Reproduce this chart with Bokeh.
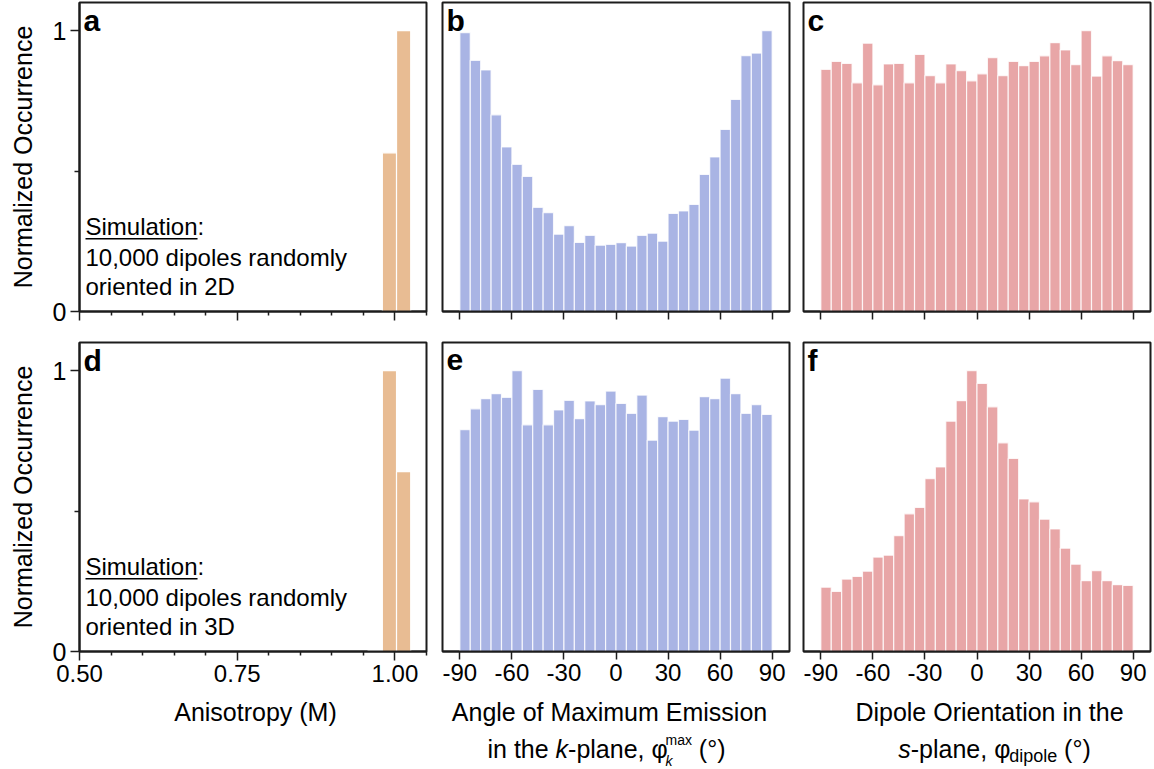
import math
from bokeh.plotting import figure
from bokeh.layouts import column, row
from bokeh.models import Label, FixedTicker, BoxAnnotation, Range1d
from bokeh.embed import file_html
from bokeh.resources import INLINE

# ---- data -------------------------------------------------------------
# anisotropy histograms (bin edges in M)
aniso_edges = [0.9575, 0.98, 1.0025, 1.025]
aniso_2d = [0.0, 0.565, 1.0]
aniso_3d = [0.004, 1.0, 0.64]

# angular histograms, 6 degree bins from -90 to 90
angle_edges = list(range(-90, 91, 6))

kmax_2d = [0.993, 0.894, 0.860, 0.700, 0.586, 0.524, 0.481, 0.371, 0.352, 0.275,
           0.306, 0.246, 0.271, 0.236, 0.239, 0.245, 0.233, 0.271, 0.279, 0.250,
           0.349, 0.358, 0.381, 0.488, 0.550, 0.648, 0.755, 0.911, 0.920, 1.000]

dipole_2d = [0.862, 0.890, 0.883, 0.814, 0.955, 0.807, 0.881, 0.883, 0.814, 0.915,
             0.840, 0.814, 0.881, 0.857, 0.821, 0.846, 0.904, 0.840, 0.890, 0.875,
             0.890, 0.910, 0.957, 0.931, 0.879, 1.000, 0.838, 0.910, 0.893, 0.879]

kmax_3d = [0.790, 0.864, 0.900, 0.918, 0.905, 1.000, 0.807, 0.933, 0.807, 0.860,
           0.894, 0.829, 0.892, 0.879, 0.927, 0.883, 0.848, 0.913, 0.752, 0.836,
           0.820, 0.826, 0.788, 0.907, 0.900, 0.973, 0.918, 0.848, 0.879, 0.844]

dipole_3d = [0.229, 0.214, 0.258, 0.267, 0.286, 0.336, 0.343, 0.412, 0.490, 0.513,
             0.615, 0.657, 0.820, 0.893, 1.000, 0.954, 0.871, 0.743, 0.687, 0.543,
             0.533, 0.471, 0.436, 0.368, 0.311, 0.252, 0.288, 0.252, 0.238, 0.235]

angle_ticks = [-90, -60, -30, 0, 30, 60, 90]
angle_tick_labels = ["-90", "-60", "-30", "0", "30", "60", "90"]
aniso_major = [0.5, 0.75, 1.0]
aniso_tick_labels = ["0.50", "0.75", "1.00"]
aniso_minor = [0.55, 0.6, 0.65, 0.7, 0.8, 0.85, 0.9, 0.95, 1.05]

# ---- style ------------------------------------------------------------
FONT = "Liberation Sans"
ORANGE = "#E8BC93"
BLUE = "#A9B4E4"
RED = "#E8A6A7"
INK = "#1c1c1c"

# column widths and row heights of the grid
COL_W = [434, 361, 359]
COL_BORDERS = [(79, 8), (8, 6), (8, 4)]
TOP_H = 326          # 2 + 309 + 15
BOT_H = 369          # 16 + 309 + 44
CAP_H = 769 - TOP_H - BOT_H

# Liberation Sans advance widths (1/1000 em)
ADV = {' ': 278, 'i': 222, 'n': 556, 't': 278, 'h': 556, 'e': 556, 'k': 500,
       '-': 333, 'p': 556, 'l': 222, 'a': 556, ',': 278, 'm': 833, 'x': 500,
       '(': 333, ')': 333, '°': 400, 's': 500, 'd': 556, 'o': 556, 'φ': 600,
       'S': 667, 'u': 556}


def text_width(s, size):
    return sum(ADV.get(c, 556) for c in s) * size / 1000.0


def label(p, x, y, text, size=25, style="normal", align="left", units="screen"):
    # y is the wanted baseline; the label anchor sits about 0.35 em above it
    p.add_layout(Label(x=x, y=y + 0.35 * size, x_units=units, y_units=units, text=text,
                       text_font=FONT, text_font_size=f"{size}px", text_font_style=style,
                       text_color="black", text_align=align, text_baseline="alphabetic"))


def style_axis(ax, tick_out):
    ax.axis_line_color = INK
    ax.axis_line_width = 2
    ax.major_tick_line_color = INK
    ax.major_tick_line_width = 1.5
    ax.minor_tick_line_color = INK
    ax.minor_tick_line_width = 1.5
    ax.major_tick_in = 0
    ax.minor_tick_in = 0
    ax.major_tick_out = tick_out
    ax.major_label_text_font = FONT
    ax.major_label_text_color = "black"


def make_fig(col, height, x_range, top, bottom, yaxis):
    left, right = COL_BORDERS[col]
    p = figure(width=COL_W[col], height=height, x_range=x_range, y_range=Range1d(0, 1.1),
               output_backend="svg", toolbar_location=None, tools="",
               y_axis_location="left" if yaxis else None,
               min_border_left=left, min_border_right=right,
               min_border_top=top, min_border_bottom=bottom)
    p.grid.visible = False
    p.outline_line_color = INK
    p.outline_line_width = 2
    p.outline_line_alpha = 1.0
    p.background_fill_color = "white"
    p.border_fill_color = "white"
    ax = p.xaxis[0]
    style_axis(ax, 8)
    ax.minor_tick_out = 4
    ax.major_label_text_font_size = "24px"
    ax.major_label_standoff = 4
    if yaxis:
        ay = p.yaxis[0]
        ay.ticker = FixedTicker(ticks=[0, 1], minor_ticks=[0.5])
        style_axis(ay, 9)
        ay.minor_tick_out = 5
        ay.major_label_text_font_size = "25px"
        ay.major_label_standoff = 4
        ay.major_label_orientation = "horizontal"
        ay.axis_label = "Normalized Occurrence"
        ay.axis_label_text_font = FONT
        ay.axis_label_text_font_size = "25px"
        ay.axis_label_text_font_style = "normal"
        ay.axis_label_text_color = "black"
        ay.axis_label_standoff = 13
    return p


def set_tick_labels(p, ticks, texts, shown):
    ax = p.xaxis[0]
    if shown:
        ax.major_label_overrides = {t: s for t, s in zip(ticks, texts)}
    else:
        # top row: ticks only, no numbers
        ax.major_label_overrides = {t: "" for t in ticks}
        ax.major_label_standoff = -30


def panel_letter(p, letter):
    label(p, 4, 281, letter, size=30, style="bold")


def sim_note(p, dim):
    label(p, 6, 77, "Simulation:", size=24)
    label(p, 6, 46, "10,000 dipoles randomly", size=24)
    label(p, 6, 17, f"oriented in {dim}", size=24)
    w = text_width("Simulation", 24)
    p.add_layout(BoxAnnotation(left=6, right=6 + w, bottom=72, top=73.5,
                               left_units="screen", right_units="screen",
                               bottom_units="screen", top_units="screen",
                               fill_color="black", fill_alpha=1.0, line_alpha=0))


def aniso_panel(height, top, bottom, values, letter, dim, bottom_row):
    p = make_fig(0, height, Range1d(0.5, 1.05), top, bottom, True)
    p.xaxis[0].ticker = FixedTicker(ticks=aniso_major, minor_ticks=aniso_minor)
    p.xaxis[0].major_tick_out = 9
    set_tick_labels(p, aniso_major, aniso_tick_labels, bottom_row)
    p.quad(left=aniso_edges[:-1], right=aniso_edges[1:], bottom=0, top=values,
           fill_color=ORANGE, line_color="white", line_width=1.2)
    panel_letter(p, letter)
    sim_note(p, dim)
    return p


def angle_panel(col, height, top, bottom, values, color, letter, bottom_row):
    p = make_fig(col, height, Range1d(-100, 100), top, bottom, False)
    p.xaxis[0].ticker = FixedTicker(ticks=angle_ticks, minor_ticks=[])
    set_tick_labels(p, angle_ticks, angle_tick_labels, bottom_row)
    p.quad(left=angle_edges[:-1], right=angle_edges[1:], bottom=0, top=values,
           fill_color=color, line_color="white", line_width=1.2, line_alpha=0.8)
    panel_letter(p, letter)
    return p


def caption_fig(col):
    w = COL_W[col]
    p = figure(width=w, height=CAP_H, x_range=Range1d(0, w), y_range=Range1d(0, CAP_H),
               output_backend="svg", toolbar_location=None, tools="",
               x_axis_location=None, y_axis_location=None,
               min_border=0, min_border_left=0, min_border_right=0,
               min_border_top=0, min_border_bottom=0)
    p.grid.visible = False
    p.outline_line_color = None
    p.background_fill_color = "white"
    p.border_fill_color = "white"
    return p


def rich_line(p, center, y, pieces):
    # pieces: (text, size, style, baseline shift, advance)
    total = sum(adv for *_, adv in pieces)
    x = center - total / 2.0
    for text, size, style, dy, adv in pieces:
        if text.strip():
            label(p, x, y + dy, text.strip(), size=size, style=style, units="data")
        x += adv


pa = aniso_panel(TOP_H, 2, 15, aniso_2d, "a", "2D", False)
pb = angle_panel(1, TOP_H, 2, 15, kmax_2d, BLUE, "b", False)
pc = angle_panel(2, TOP_H, 2, 15, dipole_2d, RED, "c", False)

pd = aniso_panel(BOT_H, 16, 44, aniso_3d, "d", "3D", True)
pe = angle_panel(1, BOT_H, 16, 44, kmax_3d, BLUE, "e", True)
pf = angle_panel(2, BOT_H, 16, 44, dipole_3d, RED, "f", True)

# axis titles, written in a strip below the bottom row
L1, L2 = 49, 12          # baselines of the two title lines
S, s_sup, s_sub = 25, 14, 18
GAP = text_width(" ", S)

ca = caption_fig(0)
label(ca, 255, L1, "Anisotropy (M)", size=S, align="center", units="data")

cb = caption_fig(1)
label(cb, 175, L1, "Angle of Maximum Emission", size=S, align="center", units="data")
rich_line(cb, 172, L2, [
    ("in the", S, "normal", 0, text_width("in the ", S)),
    ("k", S, "italic", 0, text_width("k", S)),
    ("-plane,", S, "normal", 0, text_width("-plane, ", S)),
    ("φ", S, "normal", 0, text_width("φ", S) - 1),
    ("k", s_sup, "italic", -8, 0),
    ("max", s_sup, "normal", 13, text_width("max", s_sup) + GAP),
    ("(°)", S, "normal", 0, text_width("(°)", S)),
])

cc = caption_fig(2)
label(cc, 194, L1, "Dipole Orientation in the", size=S, align="center", units="data")
rich_line(cc, 199, L2, [
    ("s", S, "italic", 0, text_width("s", S)),
    ("-plane,", S, "normal", 0, text_width("-plane, ", S)),
    ("φ", S, "normal", 0, text_width("φ", S)),
    ("dipole", s_sub, "normal", -5, text_width("dipole", s_sub) + GAP),
    ("(°)", S, "normal", 0, text_width("(°)", S)),
])

layout = column(row(pa, pb, pc, spacing=0),
                row(pd, pe, pf, spacing=0),
                row(ca, cb, cc, spacing=0), spacing=0)

open("out.html", "w").write(file_html(layout, INLINE))
